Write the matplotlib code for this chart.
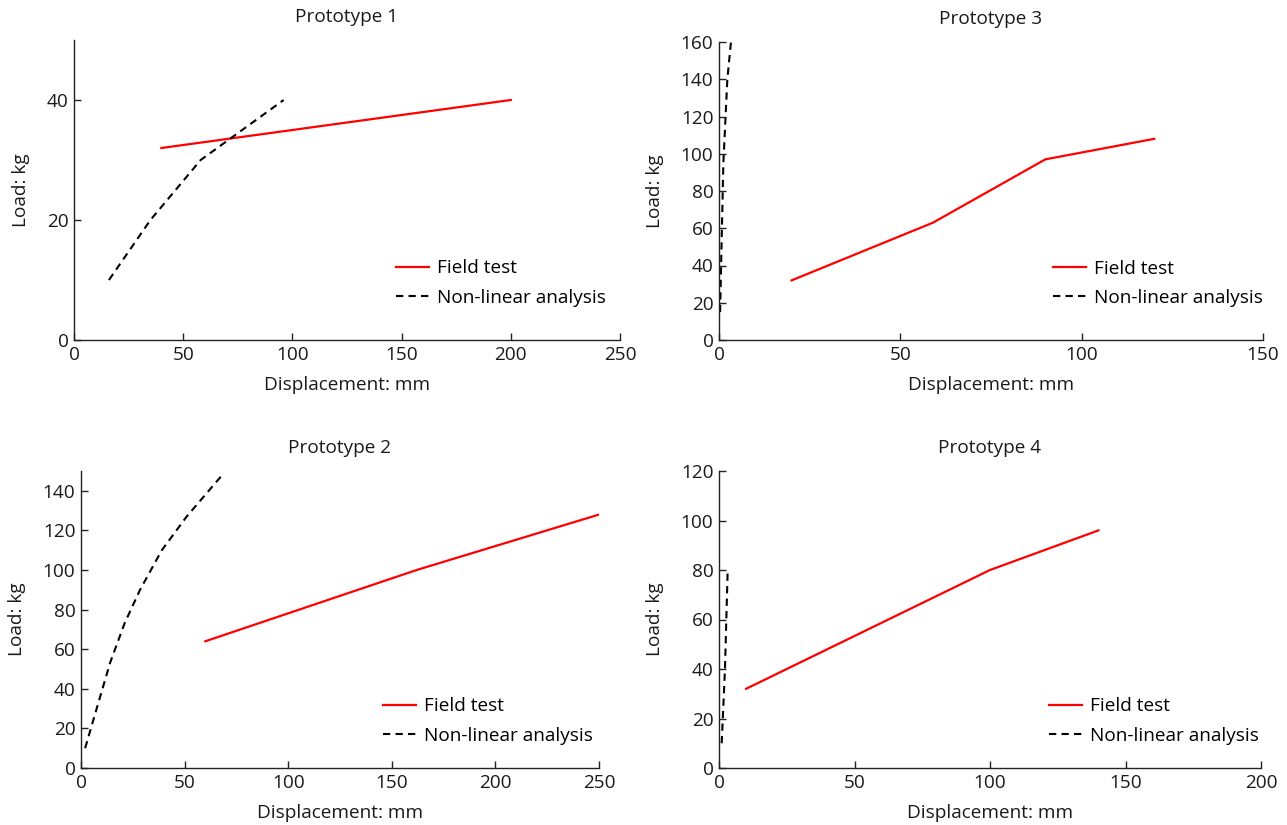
import matplotlib
matplotlib.use("Agg")
import matplotlib.pyplot as plt

plt.rcParams['font.family'] = ['Open Sans', 'DejaVu Sans']
plt.rcParams['font.size'] = 13.7

# Prototype 1
p1_field_x = [40, 200]
p1_field_y = [32, 40]
p1_nl_x = [16, 35, 58, 96]
p1_nl_y = [10, 20, 30, 40]

# Prototype 2
p2_field_x = [60, 162, 250]
p2_field_y = [64, 100, 128]
p2_nl_x = [2, 7, 14, 21, 28.5, 39, 51, 69]
p2_nl_y = [10, 28, 53, 73, 90, 110, 127, 149]

# Prototype 3
p3_field_x = [20, 59, 90, 120]
p3_field_y = [32, 63, 97, 108]
p3_nl_x = [0.3, 1.2, 2.3, 3.3]
p3_nl_y = [15, 95, 140, 160]

# Prototype 4
p4_field_x = [10, 100, 140]
p4_field_y = [32, 80, 96]
p4_nl_x = [1.0, 2.2, 3.2]
p4_nl_y = [10, 40, 80]

panels = [
    # title, field, nl, xmax, xticks, ymax, yticks, pixel rect, legend anchor
    ("Prototype 1", (p1_field_x, p1_field_y), (p1_nl_x, p1_nl_y),
     250, range(0, 251, 50), 50, range(0, 41, 20),
     [74, 620, 40, 340], (0.59, 0.19)),
    ("Prototype 3", (p3_field_x, p3_field_y), (p3_nl_x, p3_nl_y),
     150, range(0, 151, 50), 160, range(0, 161, 20),
     [719, 1263, 42, 340], (0.614, 0.19)),
    ("Prototype 2", (p2_field_x, p2_field_y), (p2_nl_x, p2_nl_y),
     250, range(0, 251, 50), 150, range(0, 141, 20),
     [81, 599, 471, 768], (0.583, 0.158)),
    ("Prototype 4", (p4_field_x, p4_field_y), (p4_nl_x, p4_nl_y),
     200, range(0, 201, 50), 120, range(0, 121, 20),
     [719, 1261, 471, 768], (0.609, 0.158)),
]

W, H = 1287, 825
fig = plt.figure(figsize=(W / 100, H / 100), dpi=100)

for title, field, nl, xmax, xt, ymax, yt, rect, anchor in panels:
    l, r, t, b = rect
    ax = fig.add_axes([l / W, 1 - b / H, (r - l) / W, (b - t) / H])
    ax.plot(field[0], field[1], color='red', lw=1.6, label='Field test')
    ax.plot(nl[0], nl[1], color='black', lw=1.5, ls=(0, (3.5, 2.5)),
            label='Non-linear analysis')
    ax.set_xlim(0, xmax)
    ax.set_ylim(0, ymax)
    ax.set_xticks(list(xt))
    ax.set_yticks(list(yt))
    ax.spines['top'].set_visible(False)
    ax.spines['right'].set_visible(False)
    for s in ('left', 'bottom'):
        ax.spines[s].set_color('#222222')
        ax.spines[s].set_linewidth(1.0)
    ax.tick_params(direction='in', length=5, width=1.0, color='#222222',
                   labelsize=13.7, pad=4, labelcolor='#1a1a1a')
    ax.set_xlabel('Displacement: mm', fontsize=13.7, labelpad=9, color='#1a1a1a')
    ax.set_ylabel('Load: kg', fontsize=13.7, labelpad=12, color='#1a1a1a')
    ax.set_title(title, fontsize=13.7, pad=13, color='#1a1a1a')
    ax.legend(loc='center left', bbox_to_anchor=anchor, frameon=False,
              borderaxespad=0, borderpad=0, handlelength=1.75,
              handletextpad=0.4, labelspacing=0.6, fontsize=13.7)

fig.savefig('out.png', dpi=100)
